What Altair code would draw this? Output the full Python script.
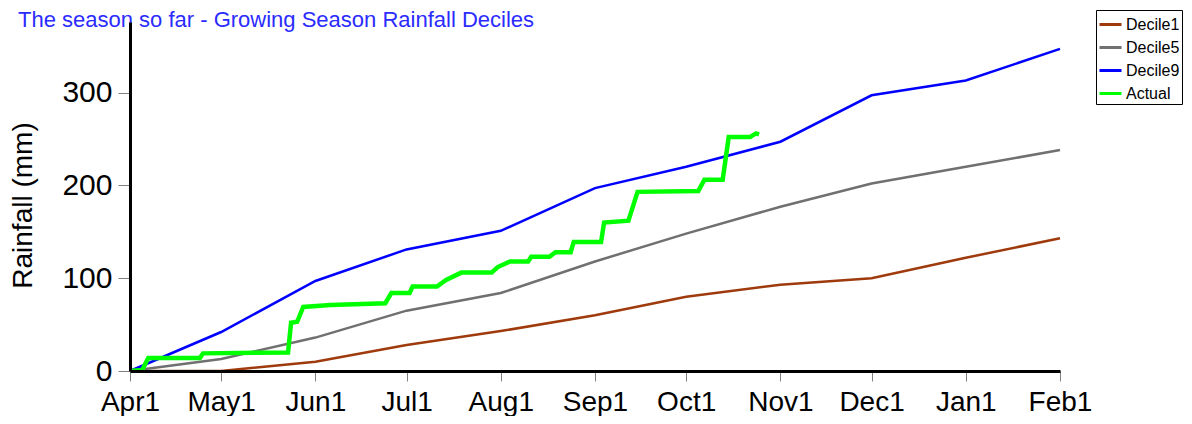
import altair as alt
import pandas as pd

# ---- data ----
title_text = ["The season so far - Growing Season Rainfall Deciles"]

month_dates = ["2023-04-01", "2023-05-01", "2023-06-01", "2023-07-01", "2023-08-01",
               "2023-09-01", "2023-10-01", "2023-11-01", "2023-12-01", "2024-01-01",
               "2024-02-01"]
decile1 = [0, 0, 10, 28, 43, 60, 80, 93, 100, 122, 143]
decile5 = [0, 13, 36, 65, 84, 118, 148, 177, 202, 220, 238]
decile9 = [0, 42, 97, 131, 151, 197, 220, 247, 297, 313, 347]

actual_dates = ["2023-04-01", "2023-04-05", "2023-04-07", "2023-04-24", "2023-04-25",
                "2023-05-23", "2023-05-24", "2023-05-26", "2023-05-28", "2023-06-06",
                "2023-06-24", "2023-06-26", "2023-07-02", "2023-07-03", "2023-07-11",
                "2023-07-14", "2023-07-19", "2023-07-29", "2023-07-31", "2023-08-04",
                "2023-08-10", "2023-08-11", "2023-08-17", "2023-08-19", "2023-08-24",
                "2023-08-25", "2023-09-03", "2023-09-04", "2023-09-12", "2023-09-15",
                "2023-10-05", "2023-10-07", "2023-10-13", "2023-10-15", "2023-10-22",
                "2023-10-24", "2023-10-25"]
actual = [0, 1, 14, 14, 19, 20, 52, 53, 69, 71, 73, 84, 84, 91, 91, 98, 106, 106, 112,
          118, 118, 123, 123, 128, 128, 139, 139, 160, 162, 193, 194, 206, 206, 252, 252,
          256, 255]

series_names = ["Decile1", "Decile5", "Decile9", "Actual"]
series_colors = ["#9E3A0C", "#707070", "#0000FF", "#00FF00"]
series_widths = [2.5, 2.5, 2.5, 4.5]
tick_labels_y = [0, 100, 200, 300]

rows = []
for name, vals in zip(series_names[:3], [decile1, decile5, decile9]):
    for d, v in zip(month_dates, vals):
        rows.append({"date": d + "T00:00:00", "rain": v, "series": name})
for d, v in zip(actual_dates, actual):
    rows.append({"date": d + "T00:00:00", "rain": v, "series": "Actual"})
df = pd.DataFrame(rows)
df["order"] = df["series"].map({n: i for i, n in enumerate(series_names)})
df["sw"] = df["series"].map(dict(zip(series_names, series_widths)))

title_df = pd.DataFrame({"title": title_text})


def dt(s):
    y, m, d = [int(p) for p in s.split("-")]
    return alt.DateTime(year=y, month=m, date=d)


x_ticks = [dt(s) for s in month_dates]

font = "Liberation Sans"

lines = alt.Chart(df).mark_line(strokeCap="butt", strokeJoin="miter").encode(
    x=alt.X("date:T",
            scale=alt.Scale(domain=[dt(month_dates[0]), dt(month_dates[-1])]),
            axis=alt.Axis(values=x_ticks, format="%b%-d", title=None, grid=False,
                          labelFont=font, labelFontSize=28, labelColor="black",
                          labelFlush=False, labelOverlap=False, labelBound=False,
                          tickColor="#808080", tickSize=10, tickWidth=1,
                          labelPadding=7, domainColor="black", domainWidth=3,
                          zindex=1)),
    y=alt.Y("rain:Q",
            scale=alt.Scale(domain=[0, 376], nice=False),
            axis=alt.Axis(values=tick_labels_y, title="Rainfall (mm)", grid=False,
                          labelFont=font, labelFontSize=30, labelColor="black",
                          tickColor="#808080", tickSize=12, tickWidth=1,
                          labelPadding=6, domainColor="black", domainWidth=3,
                          titleFont=font, titleFontSize=28, titleFontWeight="normal",
                          titleColor="black", titleX=-99, titleY=183,
                          titleBaseline="alphabetic", titleAngle=270, zindex=1)),
    color=alt.Color("series:N",
                    scale=alt.Scale(domain=series_names, range=series_colors),
                    legend=alt.Legend(orient="none", legendX=966, legendY=-12,
                                      title=None, strokeColor="black",
                                      fillColor="white", padding=2,
                                      symbolType="stroke", symbolSize=484,
                                      symbolStrokeWidth=3,
                                      labelFont=font, labelFontSize=16,
                                      labelColor="black", labelOffset=3,
                                      rowPadding=2)),
    strokeWidth=alt.StrokeWidth("sw:Q", scale=None, legend=None),
    order=alt.Order("order:Q"),
    detail="series:N",
)

title_mark = alt.Chart(title_df).mark_text(
    align="left", baseline="top", font=font, fontSize=22, color="#2B2BFF"
).encode(
    text="title:N",
    x=alt.value(-112),
    y=alt.value(-12),
)

chart = alt.layer(lines, title_mark).properties(
    width=930,
    height=349,
    padding={"left": 122, "top": 14, "right": 124, "bottom": 45},
    autosize=alt.AutoSizeParams(type="none"),
).configure_view(stroke=None)

chart.save("out.html", embed_options={"renderer": "svg", "actions": False})
